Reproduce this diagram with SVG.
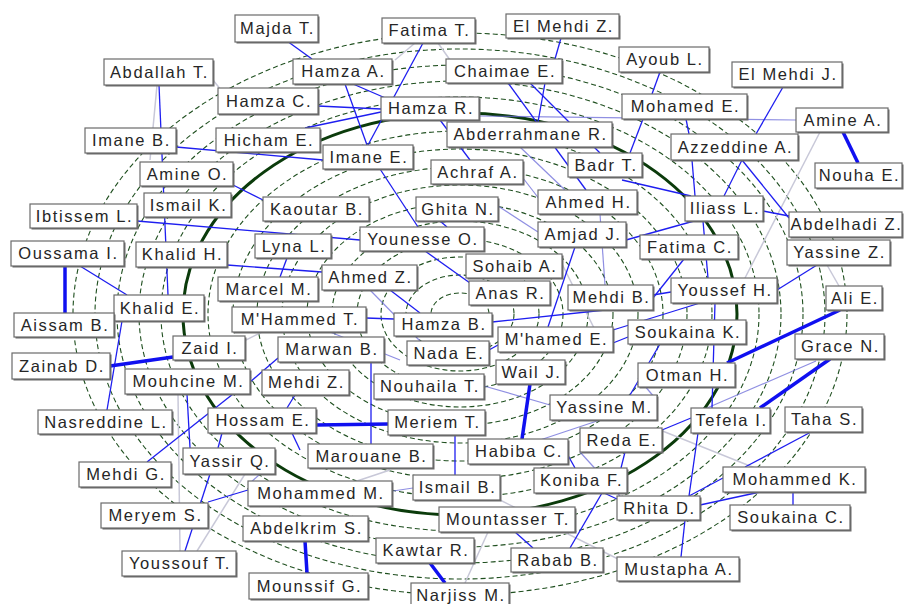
<svg xmlns="http://www.w3.org/2000/svg" width="904" height="604" viewBox="0 0 904 604">
<style>
.ring{fill:none;stroke:#1f4f1f;stroke-width:1.1;stroke-dasharray:5,3}
.thick{fill:none;stroke:#0b3b0b;stroke-width:3}
.e{stroke:#1e1ef0;stroke-width:1.3;fill:none}
.t{stroke:#1010f0;stroke-width:3.5;fill:none}
.m{stroke:#6a6ad8;stroke-width:1.2;fill:none;opacity:.75}
.l{stroke:#c8c8d8;stroke-width:1.5;fill:none}
.sh{fill:#6a6a6a}
.bx{fill:#fff;stroke:#6a6a6a;stroke-width:1.2}
text{font-family:"Liberation Sans",Arial,sans-serif;font-size:16.5px;letter-spacing:1.6px;fill:#262626;text-anchor:middle}
</style>
<rect width="904" height="604" fill="#fff"/>
<g id="rings">
<ellipse class="ring" cx="460" cy="314" rx="29" ry="21"/>
<ellipse class="ring" cx="460" cy="314" rx="54" ry="39"/>
<ellipse class="ring" cx="460" cy="314" rx="79" ry="57"/>
<ellipse class="ring" cx="460" cy="314" rx="103" ry="75"/>
<ellipse class="ring" cx="460" cy="314" rx="128" ry="93"/>
<ellipse class="ring" cx="460" cy="314" rx="153" ry="111"/>
<ellipse class="ring" cx="460" cy="314" rx="178" ry="129"/>
<ellipse class="ring" cx="460" cy="314" rx="203" ry="147"/>
<ellipse class="ring" cx="460" cy="314" rx="227" ry="165"/>
<ellipse class="ring" cx="460" cy="314" rx="252" ry="183"/>
<ellipse class="thick" cx="460" cy="314" rx="277" ry="201"/>
<ellipse class="ring" cx="460" cy="314" rx="299" ry="217"/>
<ellipse class="ring" cx="460" cy="314" rx="321" ry="233"/>
<ellipse class="ring" cx="460" cy="314" rx="343" ry="249"/>
<ellipse class="ring" cx="460" cy="314" rx="365" ry="265"/>
<ellipse class="ring" cx="460" cy="314" rx="387" ry="281"/>
</g>
<g id="connectors">
<line class="l" x1="157" y1="85" x2="150" y2="160"/>
<line class="l" x1="213" y1="80" x2="225" y2="95"/>
<line class="l" x1="415" y1="43" x2="395" y2="60"/>
<line class="l" x1="438" y1="43" x2="450" y2="60"/>
<line class="l" x1="820" y1="132" x2="745" y2="278"/>
<line class="l" x1="827" y1="265" x2="839" y2="286"/>
<line class="l" x1="178" y1="394" x2="180" y2="551"/>
<line class="l" x1="245" y1="474" x2="197" y2="551"/>
<line class="l" x1="488" y1="532" x2="465" y2="583"/>
<line class="l" x1="240" y1="343" x2="262" y2="332"/>
<line class="l" x1="300" y1="500" x2="390" y2="470"/>
<line class="l" x1="560" y1="260" x2="600" y2="340"/>
<line class="l" x1="500" y1="500" x2="620" y2="560"/>
<line class="l" x1="660" y1="430" x2="760" y2="470"/>
<line class="m" x1="479" y1="116" x2="796" y2="120"/>
<line class="m" x1="520" y1="147" x2="565" y2="190"/>
<line class="m" x1="498" y1="206" x2="538" y2="232"/>
<line class="m" x1="523" y1="178" x2="540" y2="200"/>
<line class="m" x1="600" y1="214" x2="605" y2="285"/>
<line class="m" x1="370" y1="290" x2="420" y2="341"/>
<line class="m" x1="330" y1="332" x2="400" y2="360"/>
<line class="m" x1="484" y1="386" x2="550" y2="405"/>
<line class="m" x1="638" y1="378" x2="655" y2="398"/>
<line class="m" x1="580" y1="452" x2="620" y2="496"/>
<line class="m" x1="300" y1="505" x2="413" y2="488"/>
<line class="m" x1="540" y1="440" x2="600" y2="420"/>
<line class="m" x1="707" y1="408" x2="816" y2="361"/>
<line class="m" x1="260" y1="474" x2="248" y2="485"/>
<line class="e" x1="287" y1="41" x2="312" y2="59"/>
<line class="e" x1="423" y1="43" x2="368" y2="145"/>
<line class="e" x1="561" y1="38" x2="555" y2="59"/>
<line class="e" x1="660" y1="72" x2="652" y2="94"/>
<line class="e" x1="783" y1="87" x2="756" y2="134"/>
<line class="e" x1="643" y1="119" x2="630" y2="153"/>
<line class="e" x1="686" y1="119" x2="689" y2="134"/>
<line class="e" x1="159" y1="85" x2="168" y2="295"/>
<line class="e" x1="176" y1="147" x2="323" y2="160"/>
<line class="e" x1="318" y1="106" x2="381" y2="109"/>
<line class="e" x1="305" y1="128" x2="381" y2="112"/>
<line class="e" x1="345" y1="84" x2="367" y2="145"/>
<line class="e" x1="353" y1="84" x2="390" y2="100"/>
<line class="e" x1="440" y1="120" x2="470" y2="160"/>
<line class="e" x1="508" y1="83" x2="586" y2="190"/>
<line class="e" x1="530" y1="83" x2="600" y2="153"/>
<line class="e" x1="545" y1="83" x2="538" y2="122"/>
<line class="e" x1="742" y1="160" x2="724" y2="196"/>
<line class="e" x1="742" y1="160" x2="789" y2="218"/>
<line class="e" x1="763" y1="211" x2="789" y2="216"/>
<line class="e" x1="622" y1="180" x2="691" y2="196"/>
<line class="e" x1="692" y1="160" x2="695" y2="196"/>
<line class="e" x1="694" y1="221" x2="626" y2="240"/>
<line class="e" x1="703" y1="221" x2="708" y2="278"/>
<line class="e" x1="684" y1="259" x2="653" y2="298"/>
<line class="e" x1="777" y1="290" x2="817" y2="265"/>
<line class="e" x1="691" y1="418" x2="662" y2="430"/>
<line class="e" x1="811" y1="432" x2="745" y2="467"/>
<line class="e" x1="689" y1="496" x2="723" y2="478"/>
<line class="e" x1="700" y1="505" x2="760" y2="492"/>
<line class="e" x1="793" y1="492" x2="793" y2="505"/>
<line class="e" x1="685" y1="520" x2="681" y2="557"/>
<line class="e" x1="698" y1="433" x2="689" y2="496"/>
<line class="e" x1="604" y1="493" x2="617" y2="499"/>
<line class="e" x1="602" y1="493" x2="570" y2="548"/>
<line class="e" x1="515" y1="532" x2="533" y2="548"/>
<line class="e" x1="455" y1="435" x2="455" y2="475"/>
<line class="e" x1="371" y1="362" x2="371" y2="444"/>
<line class="e" x1="233" y1="394" x2="147" y2="462"/>
<line class="e" x1="187" y1="394" x2="190" y2="448"/>
<line class="e" x1="210" y1="474" x2="185" y2="551"/>
<line class="e" x1="208" y1="502" x2="248" y2="490"/>
<line class="e" x1="366" y1="318" x2="394" y2="319"/>
<line class="e" x1="492" y1="322" x2="605" y2="310"/>
<line class="e" x1="425" y1="251" x2="470" y2="283"/>
<line class="e" x1="440" y1="221" x2="447" y2="227"/>
<line class="e" x1="380" y1="169" x2="418" y2="227"/>
<line class="e" x1="575" y1="247" x2="548" y2="327"/>
<line class="e" x1="287" y1="258" x2="280" y2="277"/>
<line class="e" x1="227" y1="265" x2="322" y2="272"/>
<line class="e" x1="80" y1="266" x2="127" y2="295"/>
<line class="e" x1="122" y1="321" x2="107" y2="410"/>
<line class="e" x1="137" y1="221" x2="360" y2="240"/>
<line class="e" x1="233" y1="185" x2="263" y2="200"/>
<line class="e" x1="222" y1="433" x2="218" y2="448"/>
<line class="e" x1="295" y1="395" x2="287" y2="408"/>
<line class="e" x1="292" y1="433" x2="300" y2="450"/>
<line class="e" x1="250" y1="382" x2="278" y2="358"/>
<line class="e" x1="628" y1="337" x2="613" y2="343"/>
<line class="e" x1="489" y1="350" x2="498" y2="345"/>
<line class="e" x1="715" y1="303" x2="712" y2="408"/>
<line class="e" x1="700" y1="303" x2="613" y2="330"/>
<line class="e" x1="621" y1="468" x2="625" y2="452"/>
<line class="e" x1="565" y1="450" x2="575" y2="468"/>
<line class="e" x1="660" y1="344" x2="630" y2="395"/>
<line class="e" x1="671" y1="292" x2="653" y2="295"/>
<line class="e" x1="390" y1="290" x2="420" y2="313"/>
<line class="t" x1="843" y1="132" x2="858" y2="163"/>
<line class="t" x1="65" y1="266" x2="65" y2="313"/>
<line class="t" x1="110" y1="366" x2="173" y2="357"/>
<line class="t" x1="316" y1="425" x2="388" y2="424"/>
<line class="t" x1="530" y1="384" x2="522" y2="439"/>
<line class="t" x1="840" y1="310" x2="727" y2="363"/>
<line class="t" x1="830" y1="359" x2="760" y2="408"/>
<line class="t" x1="305" y1="541" x2="307" y2="573"/>
<line class="t" x1="430" y1="563" x2="445" y2="583"/>
</g>
<g id="n1"><rect class="sh" x="236.5" y="16.5" width="83" height="27"/><rect class="bx" x="235" y="15" width="83" height="27"/><text x="277.5" y="34">Majda T.</text></g>
<g id="n2"><rect class="sh" x="383.5" y="19.5" width="93" height="25"/><rect class="bx" x="382" y="18" width="93" height="25"/><text x="429.5" y="36">Fatima T.</text></g>
<g id="n3"><rect class="sh" x="507.5" y="15.5" width="113" height="24"/><rect class="bx" x="506" y="14" width="113" height="24"/><text x="563.5" y="31.5">El Mehdi Z.</text></g>
<g id="n4"><rect class="sh" x="620.5" y="48.5" width="90" height="25"/><rect class="bx" x="619" y="47" width="90" height="25"/><text x="665" y="65">Ayoub L.</text></g>
<g id="n5"><rect class="sh" x="733.5" y="63.5" width="110" height="25"/><rect class="bx" x="732" y="62" width="110" height="25"/><text x="788" y="80">El Mehdi J.</text></g>
<g id="n6"><rect class="sh" x="797.5" y="109.5" width="92" height="24"/><rect class="bx" x="796" y="108" width="92" height="24"/><text x="843" y="125.5">Amine A.</text></g>
<g id="n7"><rect class="sh" x="816.5" y="164.5" width="87" height="25"/><rect class="bx" x="815" y="163" width="87" height="25"/><text x="859.5" y="181">Nouha E.</text></g>
<g id="n8"><rect class="sh" x="105.5" y="60.5" width="109" height="26"/><rect class="bx" x="104" y="59" width="109" height="26"/><text x="159.5" y="77.5">Abdallah T.</text></g>
<g id="n9"><rect class="sh" x="294.5" y="60.5" width="99" height="25"/><rect class="bx" x="293" y="59" width="99" height="25"/><text x="343.5" y="77">Hamza A.</text></g>
<g id="n10"><rect class="sh" x="447.5" y="60.5" width="116" height="24"/><rect class="bx" x="446" y="59" width="116" height="24"/><text x="505" y="76.5">Chaimae E.</text></g>
<g id="n11"><rect class="sh" x="219.5" y="89.5" width="100" height="26"/><rect class="bx" x="218" y="88" width="100" height="26"/><text x="269" y="106.5">Hamza C.</text></g>
<g id="n12"><rect class="sh" x="382.5" y="98.5" width="98" height="23"/><rect class="bx" x="381" y="97" width="98" height="23"/><text x="431" y="114">Hamza R.</text></g>
<g id="n13"><rect class="sh" x="623.5" y="95.5" width="125" height="25"/><rect class="bx" x="622" y="94" width="125" height="25"/><text x="685.5" y="112">Mohamed E.</text></g>
<g id="n14"><rect class="sh" x="86.5" y="129.5" width="91" height="25"/><rect class="bx" x="85" y="128" width="91" height="25"/><text x="131.5" y="146">Imane B.</text></g>
<g id="n15"><rect class="sh" x="217.5" y="129.5" width="104" height="24"/><rect class="bx" x="216" y="128" width="104" height="24"/><text x="269" y="145.5">Hicham E.</text></g>
<g id="n16"><rect class="sh" x="448.5" y="123.5" width="165" height="25"/><rect class="bx" x="447" y="122" width="165" height="25"/><text x="530.5" y="140">Abderrahmane R.</text></g>
<g id="n17"><rect class="sh" x="672.5" y="135.5" width="127" height="26"/><rect class="bx" x="671" y="134" width="127" height="26"/><text x="735.5" y="153">Azzeddine A.</text></g>
<g id="n18"><rect class="sh" x="324.5" y="146.5" width="90" height="24"/><rect class="bx" x="323" y="145" width="90" height="24"/><text x="369" y="162.5">Imane E.</text></g>
<g id="n19"><rect class="sh" x="432.5" y="161.5" width="92" height="24"/><rect class="bx" x="431" y="160" width="92" height="24"/><text x="478" y="177.5">Achraf A.</text></g>
<g id="n20"><rect class="sh" x="569.5" y="154.5" width="74" height="24"/><rect class="bx" x="568" y="153" width="74" height="24"/><text x="606" y="170.5">Badr T.</text></g>
<g id="n21"><rect class="sh" x="141.5" y="163.5" width="93" height="24"/><rect class="bx" x="140" y="162" width="93" height="24"/><text x="187.5" y="179.5">Amine O.</text></g>
<g id="n22"><rect class="sh" x="686.5" y="197.5" width="78" height="25"/><rect class="bx" x="685" y="196" width="78" height="25"/><text x="725" y="214">Iliass L.</text></g>
<g id="n23"><rect class="sh" x="790.5" y="213.5" width="113" height="25"/><rect class="bx" x="789" y="212" width="113" height="25"/><text x="846.5" y="230">Abdelhadi Z.</text></g>
<g id="n24"><rect class="sh" x="145.5" y="194.5" width="87" height="24"/><rect class="bx" x="144" y="193" width="87" height="24"/><text x="188.5" y="210.5">Ismail K.</text></g>
<g id="n25"><rect class="sh" x="264.5" y="198.5" width="106" height="24"/><rect class="bx" x="263" y="197" width="106" height="24"/><text x="317" y="214.5">Kaoutar B.</text></g>
<g id="n26"><rect class="sh" x="417.5" y="198.5" width="82" height="24"/><rect class="bx" x="416" y="197" width="82" height="24"/><text x="458" y="214.5">Ghita N.</text></g>
<g id="n27"><rect class="sh" x="539.5" y="191.5" width="99" height="24"/><rect class="bx" x="538" y="190" width="99" height="24"/><text x="588.5" y="207.5">Ahmed H.</text></g>
<g id="n28"><rect class="sh" x="31.5" y="205.5" width="107" height="24"/><rect class="bx" x="30" y="204" width="107" height="24"/><text x="84.5" y="221.5">Ibtissem L.</text></g>
<g id="n29"><rect class="sh" x="539.5" y="223.5" width="88" height="25"/><rect class="bx" x="538" y="222" width="88" height="25"/><text x="583" y="240">Amjad J.</text></g>
<g id="n30"><rect class="sh" x="641.5" y="236.5" width="98" height="24"/><rect class="bx" x="640" y="235" width="98" height="24"/><text x="690" y="252.5">Fatima C.</text></g>
<g id="n31"><rect class="sh" x="788.5" y="241.5" width="103" height="25"/><rect class="bx" x="787" y="240" width="103" height="25"/><text x="839.5" y="258">Yassine Z.</text></g>
<g id="n32"><rect class="sh" x="12.5" y="242.5" width="113" height="25"/><rect class="bx" x="11" y="241" width="113" height="25"/><text x="68.5" y="259">Oussama I.</text></g>
<g id="n33"><rect class="sh" x="137.5" y="243.5" width="91" height="25"/><rect class="bx" x="136" y="242" width="91" height="25"/><text x="182.5" y="260">Khalid H.</text></g>
<g id="n34"><rect class="sh" x="256.5" y="235.5" width="76" height="24"/><rect class="bx" x="255" y="234" width="76" height="24"/><text x="294" y="251.5">Lyna L.</text></g>
<g id="n35"><rect class="sh" x="361.5" y="228.5" width="124" height="24"/><rect class="bx" x="360" y="227" width="124" height="24"/><text x="423" y="244.5">Younesse O.</text></g>
<g id="n36"><rect class="sh" x="467.5" y="255.5" width="96" height="24"/><rect class="bx" x="466" y="254" width="96" height="24"/><text x="515" y="271.5">Sohaib A.</text></g>
<g id="n37"><rect class="sh" x="827.5" y="287.5" width="56" height="24"/><rect class="bx" x="826" y="286" width="56" height="24"/><text x="855" y="303.5">Ali E.</text></g>
<g id="n38"><rect class="sh" x="323.5" y="266.5" width="95" height="25"/><rect class="bx" x="322" y="265" width="95" height="25"/><text x="370.5" y="283">Ahmed Z.</text></g>
<g id="n39"><rect class="sh" x="219.5" y="278.5" width="100" height="24"/><rect class="bx" x="218" y="277" width="100" height="24"/><text x="269" y="294.5">Marcel M.</text></g>
<g id="n40"><rect class="sh" x="470.5" y="282.5" width="81" height="24"/><rect class="bx" x="469" y="281" width="81" height="24"/><text x="510.5" y="298.5">Anas R.</text></g>
<g id="n41"><rect class="sh" x="569.5" y="286.5" width="85" height="25"/><rect class="bx" x="568" y="285" width="85" height="25"/><text x="611.5" y="303">Mehdi B.</text></g>
<g id="n42"><rect class="sh" x="672.5" y="279.5" width="106" height="25"/><rect class="bx" x="671" y="278" width="106" height="25"/><text x="725" y="296">Youssef H.</text></g>
<g id="n43"><rect class="sh" x="115.5" y="296.5" width="90" height="26"/><rect class="bx" x="114" y="295" width="90" height="26"/><text x="160" y="313.5">Khalid E.</text></g>
<g id="n44"><rect class="sh" x="233.5" y="308.5" width="134" height="25"/><rect class="bx" x="232" y="307" width="134" height="25"/><text x="300" y="325">M'Hammed T.</text></g>
<g id="n45"><rect class="sh" x="395.5" y="314.5" width="98" height="23"/><rect class="bx" x="394" y="313" width="98" height="23"/><text x="444" y="330">Hamza B.</text></g>
<g id="n46"><rect class="sh" x="15.5" y="314.5" width="100" height="24"/><rect class="bx" x="14" y="313" width="100" height="24"/><text x="65" y="330.5">Aissam B.</text></g>
<g id="n47"><rect class="sh" x="629.5" y="321.5" width="118" height="24"/><rect class="bx" x="628" y="320" width="118" height="24"/><text x="688" y="337.5">Soukaina K.</text></g>
<g id="n48"><rect class="sh" x="796.5" y="335.5" width="89" height="25"/><rect class="bx" x="795" y="334" width="89" height="25"/><text x="840.5" y="352">Grace N.</text></g>
<g id="n49"><rect class="sh" x="174.5" y="337.5" width="72" height="24"/><rect class="bx" x="173" y="336" width="72" height="24"/><text x="210" y="353.5">Zaid I.</text></g>
<g id="n50"><rect class="sh" x="279.5" y="338.5" width="106" height="25"/><rect class="bx" x="278" y="337" width="106" height="25"/><text x="332" y="355">Marwan B.</text></g>
<g id="n51"><rect class="sh" x="408.5" y="342.5" width="82" height="24"/><rect class="bx" x="407" y="341" width="82" height="24"/><text x="449" y="358.5">Nada E.</text></g>
<g id="n52"><rect class="sh" x="499.5" y="328.5" width="115" height="25"/><rect class="bx" x="498" y="327" width="115" height="25"/><text x="556.5" y="345">M'hamed E.</text></g>
<g id="n53"><rect class="sh" x="13.5" y="354.5" width="98" height="26"/><rect class="bx" x="12" y="353" width="98" height="26"/><text x="62" y="371.5">Zainab D.</text></g>
<g id="n54"><rect class="sh" x="126.5" y="370.5" width="125" height="25"/><rect class="bx" x="125" y="369" width="125" height="25"/><text x="188.5" y="387">Mouhcine M.</text></g>
<g id="n55"><rect class="sh" x="263.5" y="371.5" width="87" height="25"/><rect class="bx" x="262" y="370" width="87" height="25"/><text x="306.5" y="388">Mehdi Z.</text></g>
<g id="n56"><rect class="sh" x="375.5" y="375.5" width="110" height="25"/><rect class="bx" x="374" y="374" width="110" height="25"/><text x="430" y="392">Nouhaila T.</text></g>
<g id="n57"><rect class="sh" x="497.5" y="361.5" width="69" height="24"/><rect class="bx" x="496" y="360" width="69" height="24"/><text x="531.5" y="377.5">Wail J.</text></g>
<g id="n58"><rect class="sh" x="639.5" y="364.5" width="97" height="24"/><rect class="bx" x="638" y="363" width="97" height="24"/><text x="687.5" y="380.5">Otman H.</text></g>
<g id="n59"><rect class="sh" x="39.5" y="411.5" width="134" height="24"/><rect class="bx" x="38" y="410" width="134" height="24"/><text x="106" y="427.5">Nasreddine L.</text></g>
<g id="n60"><rect class="sh" x="209.5" y="409.5" width="108" height="25"/><rect class="bx" x="208" y="408" width="108" height="25"/><text x="263" y="426">Hossam E.</text></g>
<g id="n61"><rect class="sh" x="389.5" y="411.5" width="97" height="25"/><rect class="bx" x="388" y="410" width="97" height="25"/><text x="437.5" y="428">Meriem T.</text></g>
<g id="n62"><rect class="sh" x="551.5" y="396.5" width="107" height="25"/><rect class="bx" x="550" y="395" width="107" height="25"/><text x="604.5" y="413">Yassine M.</text></g>
<g id="n63"><rect class="sh" x="692.5" y="409.5" width="79" height="25"/><rect class="bx" x="691" y="408" width="79" height="25"/><text x="731.5" y="426">Tefela I.</text></g>
<g id="n64"><rect class="sh" x="786.5" y="408.5" width="77" height="25"/><rect class="bx" x="785" y="407" width="77" height="25"/><text x="824.5" y="425">Taha S.</text></g>
<g id="n65"><rect class="sh" x="581.5" y="429.5" width="82" height="24"/><rect class="bx" x="580" y="428" width="82" height="24"/><text x="622" y="445.5">Reda E.</text></g>
<g id="n66"><rect class="sh" x="80.5" y="463.5" width="92" height="25"/><rect class="bx" x="79" y="462" width="92" height="25"/><text x="126" y="480">Mehdi G.</text></g>
<g id="n67"><rect class="sh" x="184.5" y="449.5" width="92" height="26"/><rect class="bx" x="183" y="448" width="92" height="26"/><text x="230" y="466.5">Yassir Q.</text></g>
<g id="n68"><rect class="sh" x="309.5" y="445.5" width="125" height="24"/><rect class="bx" x="308" y="444" width="125" height="24"/><text x="371.5" y="461.5">Marouane B.</text></g>
<g id="n69"><rect class="sh" x="469.5" y="440.5" width="100" height="25"/><rect class="bx" x="468" y="439" width="100" height="25"/><text x="519" y="457">Habiba C.</text></g>
<g id="n70"><rect class="sh" x="414.5" y="476.5" width="87" height="25"/><rect class="bx" x="413" y="475" width="87" height="25"/><text x="457.5" y="493">Ismail B.</text></g>
<g id="n71"><rect class="sh" x="535.5" y="469.5" width="93" height="25"/><rect class="bx" x="534" y="468" width="93" height="25"/><text x="581.5" y="486">Koniba F.</text></g>
<g id="n72"><rect class="sh" x="724.5" y="468.5" width="142" height="25"/><rect class="bx" x="723" y="467" width="142" height="25"/><text x="795" y="485">Mohammed K.</text></g>
<g id="n73"><rect class="sh" x="249.5" y="482.5" width="144" height="25"/><rect class="bx" x="248" y="481" width="144" height="25"/><text x="321" y="499">Mohammed M.</text></g>
<g id="n74"><rect class="sh" x="618.5" y="497.5" width="83" height="24"/><rect class="bx" x="617" y="496" width="83" height="24"/><text x="659.5" y="513.5">Rhita D.</text></g>
<g id="n75"><rect class="sh" x="102.5" y="504.5" width="107" height="25"/><rect class="bx" x="101" y="503" width="107" height="25"/><text x="155.5" y="521">Meryem S.</text></g>
<g id="n76"><rect class="sh" x="440.5" y="508.5" width="136" height="25"/><rect class="bx" x="439" y="507" width="136" height="25"/><text x="508" y="525">Mountasser T.</text></g>
<g id="n77"><rect class="sh" x="731.5" y="506.5" width="120" height="25"/><rect class="bx" x="730" y="505" width="120" height="25"/><text x="791" y="523">Soukaina C.</text></g>
<g id="n78"><rect class="sh" x="244.5" y="517.5" width="125" height="25"/><rect class="bx" x="243" y="516" width="125" height="25"/><text x="306.5" y="534">Abdelkrim S.</text></g>
<g id="n79"><rect class="sh" x="377.5" y="539.5" width="98" height="25"/><rect class="bx" x="376" y="538" width="98" height="25"/><text x="426" y="556">Kawtar R.</text></g>
<g id="n80"><rect class="sh" x="512.5" y="549.5" width="92" height="24"/><rect class="bx" x="511" y="548" width="92" height="24"/><text x="558" y="565.5">Rabab B.</text></g>
<g id="n81"><rect class="sh" x="123.5" y="552.5" width="114" height="25"/><rect class="bx" x="122" y="551" width="114" height="25"/><text x="180" y="569">Youssouf T.</text></g>
<g id="n82"><rect class="sh" x="618.5" y="558.5" width="122" height="24"/><rect class="bx" x="617" y="557" width="122" height="24"/><text x="679" y="574.5">Mustapha A.</text></g>
<g id="n83"><rect class="sh" x="250.5" y="574.5" width="119" height="26"/><rect class="bx" x="249" y="573" width="119" height="26"/><text x="309.5" y="591.5">Mounssif G.</text></g>
<g id="n84"><rect class="sh" x="412.5" y="584.5" width="98" height="24"/><rect class="bx" x="411" y="583" width="98" height="24"/><text x="461" y="601">Narjiss M.</text></g>
</svg>
